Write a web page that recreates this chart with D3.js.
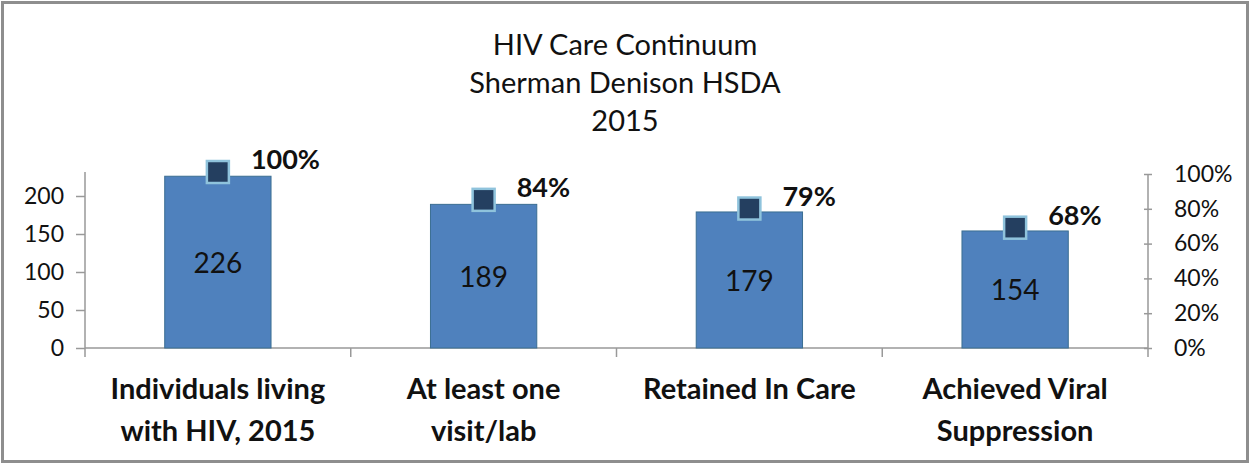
<!DOCTYPE html>
<html>
<head>
<meta charset="utf-8">
<script src="https://cdn.jsdelivr.net/npm/d3@7"></script>
<style>
  body { margin: 0; background: #fff; }
  svg { display: block; font-family: Lato, "Open Sans", sans-serif; }
</style>
</head>
<body>
<script>
'use strict';

// chart data
const categories = ["Individuals living|with HIV, 2015", "At least one|visit/lab", "Retained In Care", "Achieved Viral|Suppression"];
const counts = [226, 189, 179, 154];
const percents = [1.00, 0.84, 0.79, 0.68];
const leftTicks = [0, 50, 100, 150, 200];
const rightTicks = [0, 0.2, 0.4, 0.6, 0.8, 1.0];
const titleLines = ["HIV Care Continuum", "Sherman Denison HSDA", "2015"];

const width = 1249, height = 463;
const plot = {left: 85, right: 1148, top: 174, bottom: 348};

window.onload = function() {
  const svg = d3.select('body').append('svg')
    .attr('width', width)
    .attr('height', height);

  // chart frame
  svg.append('rect')
    .attr('x', 2.5).attr('y', 2.5)
    .attr('width', width - 4).attr('height', height - 4)
    .attr('fill', 'none')
    .attr('stroke', '#8e8e8e')
    .attr('stroke-width', 3);

  // title
  svg.append('g').selectAll('text')
    .data(titleLines)
    .enter().append('text')
      .attr('x', 625)
      .attr('y', (d, i) => 55 + i * 38)
      .attr('text-anchor', 'middle')
      .style('font-size', '29px')
      .attr('fill', '#111')
      .text(d => d);

  const x = d3.scaleBand()
    .domain(categories)
    .range([plot.left, plot.right])
    .paddingInner(0.6)
    .paddingOuter(0.3);

  // left scale: 226 sits about at y=176
  const y = d3.scaleLinear()
    .domain([0, 50])
    .range([plot.bottom, plot.bottom - 38]);

  const yPct = d3.scaleLinear()
    .domain([0, 1])
    .range([plot.bottom, plot.top]);

  // left axis
  const leftAxis = d3.axisLeft(y)
    .tickValues(leftTicks)
    .tickSize(9)
    .tickPadding(12);
  const gl = svg.append('g')
    .attr('transform', 'translate(' + plot.left + ',0)')
    .call(leftAxis);
  gl.select('.domain').attr('d', 'M0,172V357');

  // right axis
  const rightAxis = d3.axisRight(yPct)
    .tickValues(rightTicks)
    .tickFormat(d3.format('.0%'))
    .tickSize(6)
    .tickPadding(20);
  const gr = svg.append('g')
    .attr('transform', 'translate(' + plot.right + ',0)')
    .call(rightAxis);
  gr.select('.domain').attr('d', 'M0,' + plot.top + 'V357');
  gr.selectAll('.tick line').attr('x1', -4).attr('x2', 4);

  [gl, gr].forEach(g => {
    g.select('.domain').attr('stroke', '#999').attr('stroke-width', 1.5);
    g.selectAll('.tick line').attr('stroke', '#999').attr('stroke-width', 1.5);
    g.selectAll('.tick text')
      .style('font-size', '23px')
      .style('font-family', 'Lato, "Open Sans", sans-serif')
      .attr('fill', '#111');
  });

  // category axis with boundary ticks
  const boundaries = categories.map((c, i) => plot.left + i * (plot.right - plot.left) / categories.length);
  boundaries.push(plot.right);
  svg.append('line')
    .attr('x1', plot.left).attr('x2', plot.right)
    .attr('y1', plot.bottom).attr('y2', plot.bottom)
    .attr('stroke', '#999').attr('stroke-width', 1.5);
  svg.append('g').selectAll('line')
    .data(boundaries.slice(1, -1))
    .enter().append('line')
      .attr('x1', d => d).attr('x2', d => d)
      .attr('y1', plot.bottom).attr('y2', plot.bottom + 9)
      .attr('stroke', '#999').attr('stroke-width', 1.5);

  // bars
  svg.append('g').selectAll('rect')
    .data(counts)
    .enter().append('rect')
      .attr('x', (d, i) => x(categories[i]))
      .attr('y', d => y(d))
      .attr('width', x.bandwidth())
      .attr('height', d => plot.bottom - y(d))
      .attr('fill', '#4f81bd')
      .attr('stroke', '#3b6e92')
      .attr('stroke-width', 1);

  // bar value labels
  svg.append('g').selectAll('text')
    .data(counts)
    .enter().append('text')
      .attr('x', (d, i) => x(categories[i]) + x.bandwidth() / 2)
      .attr('y', d => (y(d) + plot.bottom) / 2 + 11)
      .attr('text-anchor', 'middle')
      .style('font-size', '28px')
      .attr('fill', '#111')
      .text(d => d);

  // percent markers
  const ms = 22;
  svg.append('g').selectAll('rect')
    .data(percents)
    .enter().append('rect')
      .attr('x', (d, i) => x(categories[i]) + x.bandwidth() / 2 - ms / 2)
      .attr('y', d => yPct(d) - 2 - ms / 2)
      .attr('width', ms).attr('height', ms)
      .attr('fill', '#243f60')
      .attr('stroke', '#8fc3dc')
      .attr('stroke-width', 2.5);

  svg.append('g').selectAll('text')
    .data(percents)
    .enter().append('text')
      .attr('x', (d, i) => x(categories[i]) + x.bandwidth() / 2 + 33)
      .attr('y', d => yPct(d) - 5)
      .style('font-size', '27px')
      .style('font-weight', 'bold')
      .attr('fill', '#111')
      .text(d => d3.format('.0%')(d));

  // category labels
  const cat = svg.append('g').selectAll('text')
    .data(categories)
    .enter().append('text')
      .attr('x', d => x(d) + x.bandwidth() / 2)
      .attr('y', 399)
      .attr('text-anchor', 'middle')
      .style('font-size', '29px')
      .style('font-weight', 'bold')
      .attr('fill', '#111');
  cat.selectAll('tspan')
    .data(d => d.split('|'))
    .enter().append('tspan')
      .attr('x', function() { return d3.select(this.parentNode).attr('x'); })
      .attr('dy', (d, i) => i === 0 ? 0 : 42)
      .text(d => d);
};
</script>
</body>
</html>
